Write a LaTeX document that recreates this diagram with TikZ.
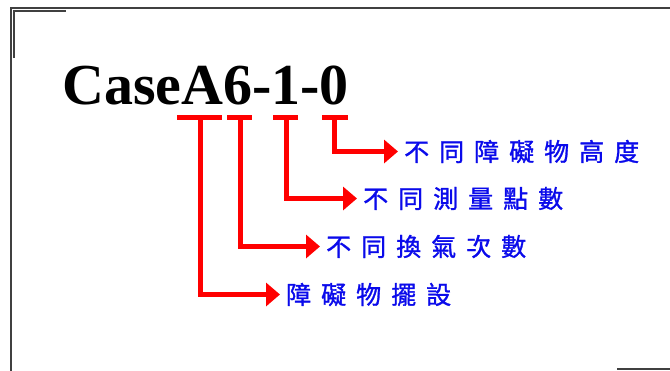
\documentclass[tikz,border=0pt]{standalone}
\usepackage{fontspec}
\setmainfont{Liberation Serif}
\newfontfamily\cjk[LetterSpace=40,FakeBold=1.2]{Noto Sans CJK TC}
\usetikzlibrary{arrows.meta}
\definecolor{framegray}{RGB}{64,64,64}
\definecolor{lblblue}{RGB}{10,10,235}
\tikzset{
  frame/.style={draw=framegray, line width=2pt},
  redline/.style={draw=red, line width=5pt},
  redarrow/.style={draw=red, line width=5pt, -{Triangle[width=23pt,length=14pt]}, shorten >=6pt},
  lbl/.style={anchor=west, inner sep=0pt, text=lblblue, font=\cjk\fontsize{25pt}{25pt}\selectfont},
}
\begin{document}
\begin{tikzpicture}[x=1pt,y=-1pt]
\useasboundingbox (0,0) rectangle (670,370);
\fill[white] (0,0) rectangle (670,370);
% frame
\draw[frame] (10.5,372) -- (10.5,7.5) -- (672,7.5);
\draw[frame, line width=1.6pt] (14,58) -- (14,11) -- (66,11);
\draw[frame] (617,368.5) -- (672,368.5);
% title
\node[anchor=base west, inner sep=0pt, font=\fontsize{58pt}{58pt}\selectfont\bfseries] (title) at (62,104) {CaseA6-1-0};
% T bars
\coordinate (b1l) at (177,117); \coordinate (b1r) at (222,117);
\coordinate (b2l) at (227,117); \coordinate (b2r) at (252,117);
\coordinate (b3l) at (273,117); \coordinate (b3r) at (298,117);
\coordinate (b4l) at (322,117); \coordinate (b4r) at (348,117);
\draw[redline] (b1l) -- (b1r);
\draw[redline] (b2l) -- (b2r);
\draw[redline] (b3l) -- (b3r);
\draw[redline] (b4l) -- (b4r);
\coordinate (v1) at (200,117);
\coordinate (v2) at (240,117);
\coordinate (v3) at (286,117);
\coordinate (v4) at (334,117);
% labels
\node[lbl] (l1) at (286,294.5) {障礙物擺設};
\node[lbl] (l2) at (326,246.5) {不同換氣次數};
\node[lbl] (l3) at (363,198.5) {不同測量點數};
\node[lbl] (l4) at (404,151.5) {不同障礙物高度};
% arrows
\draw[redarrow] (v1) |- (l1.west);
\draw[redarrow] (v2) |- (l2.west);
\draw[redarrow] (v3) |- (l3.west);
\draw[redarrow] (v4) |- (l4.west);
\end{tikzpicture}
\end{document}
